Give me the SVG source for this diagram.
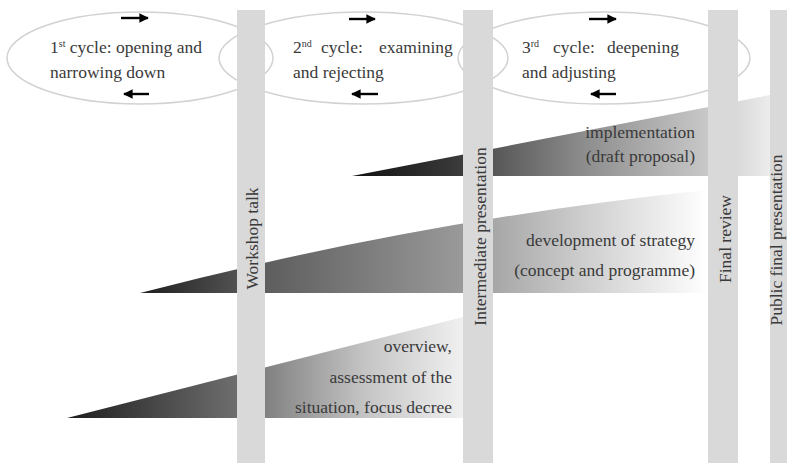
<svg xmlns="http://www.w3.org/2000/svg" width="787" height="463" viewBox="0 0 787 463" font-family="'Liberation Serif', Tinos, 'Times New Roman', serif">
<style>
.t{font-family:'Liberation Serif',Tinos,'Times New Roman',serif;font-size:17.5px;fill:#3a3a3a}
.sup{font-size:10px}
.cyc{fill:none;stroke:#d2d2d2;stroke-width:1.5}
.bar{fill:#d9d9d9}
.arr{stroke:#000;stroke-width:2.4;fill:none;marker-end:url(#ah)}
</style>
<defs>
<marker id="ah" viewBox="0 0 10 10" refX="9" refY="5" markerWidth="4" markerHeight="4" orient="auto" markerUnits="strokeWidth">
<path d="M0,0 L10,5 L0,10 Z" fill="#000"/>
</marker>
<linearGradient id="g1" gradientUnits="userSpaceOnUse" x1="67" y1="0" x2="463" y2="0">
<stop offset="0" stop-color="#1e1e1e"/><stop offset="0.43" stop-color="#6e6e6e"/><stop offset="0.75" stop-color="#c4c4c4"/><stop offset="1" stop-color="#f0f0f0"/>
</linearGradient>
<linearGradient id="g2" gradientUnits="userSpaceOnUse" x1="140" y1="0" x2="708" y2="0">
<stop offset="0" stop-color="#1e1e1e"/><stop offset="0.2" stop-color="#5a5a5a"/><stop offset="0.57" stop-color="#9a9a9a"/><stop offset="0.8" stop-color="#d2d2d2"/><stop offset="1" stop-color="#ffffff"/>
</linearGradient>
<linearGradient id="g3" gradientUnits="userSpaceOnUse" x1="352" y1="0" x2="770" y2="0">
<stop offset="0" stop-color="#111"/><stop offset="0.27" stop-color="#3c3c3c"/><stop offset="0.34" stop-color="#575757"/><stop offset="0.55" stop-color="#8c8c8c"/><stop offset="0.83" stop-color="#c4c4c4"/><stop offset="1" stop-color="#ececec"/>
</linearGradient>
</defs>
<rect width="787" height="463" fill="#fff"/>

<g id="cycle1">
<ellipse class="cyc" cx="140" cy="58" rx="133" ry="46"/>
<text class="t" x="50" y="53">1<tspan class="sup" dy="-6">st</tspan><tspan dy="6"> cycle: opening and</tspan></text>
<text class="t" x="50" y="78">narrowing down</text>
</g>
<g id="cycle2">
<ellipse class="cyc" cx="363.5" cy="58" rx="144.5" ry="46"/>
<text class="t" x="293" y="53">2<tspan class="sup" dy="-6">nd</tspan><tspan x="321" dy="6">cycle:</tspan><tspan x="379">examining</tspan></text>
<text class="t" x="293" y="78">and rejecting</text>
</g>
<g id="cycle3">
<ellipse class="cyc" cx="604" cy="58" rx="146" ry="46"/>
<text class="t" x="522" y="53">3<tspan class="sup" dy="-6">rd</tspan><tspan x="553" dy="6">cycle:</tspan><tspan x="607">deepening</tspan></text>
<text class="t" x="522" y="78">and adjusting</text>
</g>

<g id="phase-overview">
<path d="M67,418 L463,317 L463,418 Z" fill="url(#g1)"/>
</g>
<g id="phase-strategy">
<path d="M140,293 Q420,220 708,190 L708,293 Z" fill="url(#g2)"/>
</g>
<g id="phase-implementation">
<path d="M352,176 L770,95 L770,176 Z" fill="url(#g3)"/>
</g>

<g id="workshop-talk">
<rect class="bar" x="237" y="10" width="28" height="453"/>
<text class="t" text-anchor="middle" transform="translate(257.5,238.5) rotate(-90)">Workshop talk</text>
</g>
<g id="intermediate-presentation">
<rect class="bar" x="463" y="10" width="30" height="453"/>
<text class="t" text-anchor="middle" transform="translate(485.5,236.5) rotate(-90)">Intermediate presentation</text>
</g>
<g id="final-review">
<rect class="bar" x="708" y="10" width="30" height="453"/>
<text class="t" text-anchor="middle" transform="translate(730.5,239) rotate(-90)">Final review</text>
</g>
<g id="public-final-presentation">
<rect class="bar" x="770" y="10" width="20" height="453"/>
<text class="t" text-anchor="middle" transform="translate(782,240) rotate(-90)">Public final presentation</text>
</g>

<g id="labels">
<text class="t" text-anchor="end" x="695" y="138">implementation</text>
<text class="t" text-anchor="end" x="695" y="162">(draft proposal)</text>
<text class="t" text-anchor="end" x="695" y="246">development of strategy</text>
<text class="t" text-anchor="end" x="695" y="276">(concept and programme)</text>
<text class="t" text-anchor="end" x="452" y="352">overview,</text>
<text class="t" text-anchor="end" x="452" y="383">assessment of the</text>
<text class="t" text-anchor="end" x="452" y="413">situation, focus decree</text>
</g>

<g id="connectors">
<line class="arr" x1="121" y1="18" x2="148" y2="18"/>
<line class="arr" x1="149" y1="94" x2="124" y2="94"/>
<line class="arr" x1="349" y1="19" x2="375" y2="19"/>
<line class="arr" x1="378" y1="94" x2="352" y2="94"/>
<line class="arr" x1="589" y1="19" x2="616" y2="19"/>
<line class="arr" x1="616" y1="94" x2="591" y2="94"/>
</g>
</svg>
